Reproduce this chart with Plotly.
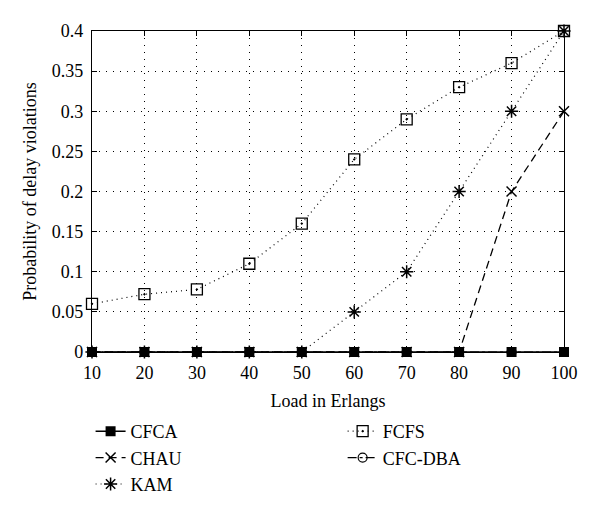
import plotly.graph_objects as go

load = [10, 20, 30, 40, 50, 60, 70, 80, 90, 100]
cfca = [0, 0, 0, 0, 0, 0, 0, 0, 0, 0]
chau = [0, 0, 0, 0, 0, 0, 0, 0, 0.2, 0.3]
kam = [0, 0, 0, 0, 0, 0.05, 0.1, 0.2, 0.3, 0.4]
fcfs = [0.06, 0.072, 0.078, 0.11, 0.16, 0.24, 0.29, 0.33, 0.36, 0.4]
cfc_dba = [0, 0, 0, 0, 0, 0, 0, 0, 0, 0]

font = "Liberation Serif"

fig = go.Figure()

fig.add_trace(go.Scatter(x=load, y=cfc_dba, name="CFC-DBA", legend="legend2",
                         mode="lines+markers", cliponaxis=False,
                         line=dict(color="black", width=1.2, dash="dashdot"),
                         marker=dict(symbol="circle-open", size=9, color="black",
                                     line=dict(width=1.2))))
fig.add_trace(go.Scatter(x=load, y=fcfs, name="FCFS", legend="legend2",
                         mode="lines+markers", cliponaxis=False,
                         line=dict(color="black", width=1.2, dash="1px,4px"),
                         marker=dict(symbol="square-open-dot", size=11, color="black",
                                     line=dict(width=1.3))))
fig.add_trace(go.Scatter(x=load, y=kam, name="KAM",
                         mode="lines+markers", cliponaxis=False,
                         line=dict(color="black", width=1.2, dash="1px,4px"),
                         marker=dict(symbol="asterisk-open", size=11, color="black",
                                     line=dict(width=1.5))))
fig.add_trace(go.Scatter(x=load, y=chau, name="CHAU",
                         mode="lines+markers", cliponaxis=False,
                         line=dict(color="black", width=1.3, dash="8px,5px"),
                         marker=dict(symbol="x-thin-open", size=10, color="black",
                                     line=dict(width=1.5))))
fig.add_trace(go.Scatter(x=load, y=cfca, name="CFCA",
                         mode="lines+markers", cliponaxis=False,
                         line=dict(color="black", width=1.5),
                         marker=dict(symbol="square", size=10, color="black")))

axis_common = dict(
    showline=True, linecolor="black", linewidth=1.2, mirror="ticks",
    ticks="inside", ticklen=5, tickcolor="black", tickwidth=1.2,
    showgrid=True, gridcolor="black", gridwidth=1, griddash="1px,6px",
    zeroline=False, ticklabelstandoff=4,
    tickfont=dict(family=font, size=18, color="black"),
)

fig.update_xaxes(range=[10, 100], tickvals=load, title=dict(
    text="Load in Erlangs", font=dict(family=font, size=18, color="black"), standoff=12),
    **axis_common)
fig.update_yaxes(range=[0, 0.4], dtick=0.05, title=dict(
    text="Probability of delay violations", font=dict(family=font, size=18, color="black"),
    standoff=10),
    **axis_common)

fig.update_layout(
    width=600, height=527,
    paper_bgcolor="white", plot_bgcolor="white",
    margin=dict(l=84, r=44, t=23, b=183),
    font=dict(family=font, color="black"),
    legend=dict(x=-0.003, y=-0.19, xanchor="left", yanchor="top",
                traceorder="reversed", font=dict(family=font, size=18),
                tracegroupgap=0, itemwidth=30, bgcolor="rgba(0,0,0,0)"),
    legend2=dict(x=0.531, y=-0.19, xanchor="left", yanchor="top",
                 traceorder="reversed", font=dict(family=font, size=18),
                 tracegroupgap=0, itemwidth=30, bgcolor="rgba(0,0,0,0)"),
)

fig.write_html("out.html")
